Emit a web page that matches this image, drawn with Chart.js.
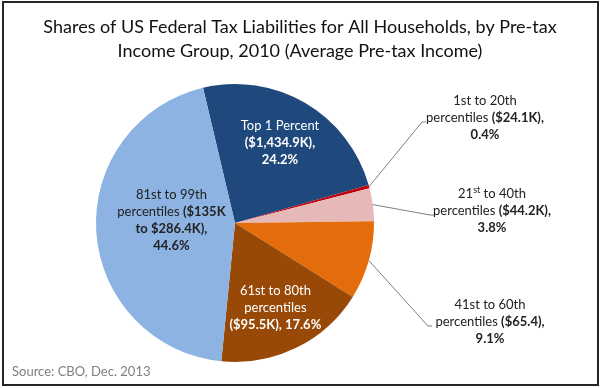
<!DOCTYPE html>
<html>
<head>
<meta charset="utf-8">
<script src="https://cdn.jsdelivr.net/npm/chart.js@4"></script>
<style>
  html, body { margin: 0; padding: 0; background: #fff; }
  #wrap { width: 600px; height: 388px; position: relative; }
</style>
</head>
<body>
<div id="wrap"><canvas id="pie" width="600" height="388"></canvas></div>
<script>
// data (percent of federal tax liabilities)
const groups = ['Top 1 Percent', '1st to 20th', '21st to 40th', '41st to 60th', '61st to 80th', '81st to 99th'];
const shares = [24.2, 0.4, 3.8, 9.1, 17.6, 44.6];
const avgIncome = ['$1,434.9K', '$24.1K', '$44.2K', '$65.4', '$95.5K', '$135K to $286.4K'];
const colors = ['#1f497d', '#c0000f', '#e6b9b8', '#e46c0a', '#984807', '#8db3e2'];

const FONT = 'Lato, "Open Sans", sans-serif';

// each label: list of lines, each line is list of [text, bold, sup]
const labelLines = [
    [[['Top 1 Percent', false]], [['(' + avgIncome[0] + '),', true]], [[shares[0].toFixed(1) + '%', true]]],
    [[['1st to 20th', false]], [['percentiles ', false], ['(' + avgIncome[1] + '),', true]], [[shares[1].toFixed(1) + '%', true]]],
    [[['21', false], ['st', false, 'sup'], [' to 40th', false]], [['percentiles ', false], ['(' + avgIncome[2] + '),', true]], [[shares[2].toFixed(1) + '%', true]]],
    [[['41st to 60th', false]], [['percentiles ', false], ['(' + avgIncome[3] + '),', true]], [[shares[3].toFixed(1) + '%', true]]],
    [[['61st to 80th', false]], [['percentiles', false]], [['(' + avgIncome[4] + '), ' + shares[4].toFixed(1) + '%', true]]],
    [[['81st to 99th', false]], [['percentiles ', false], ['($135K', true]], [['to $286.4K),', true]], [[shares[5].toFixed(1) + '%', true]]]
];
const textColors = ['#fff', '#222', '#222', '#222', '#fff', '#222'];

function drawLines(ctx, lines, cx, cy, color) {
    const lh = 17;
    const top = cy - (lines.length - 1) * lh / 2;
    lines.forEach((line, i) => {
        let w = 0;
        line.forEach(p => {
            ctx.font = (p[1] ? 'bold ' : '') + (p[2] ? '9px ' : '13px ') + FONT;
            w += ctx.measureText(p[0]).width;
        });
        let x = cx - w / 2;
        const y = top + i * lh;
        line.forEach(p => {
            ctx.font = (p[1] ? 'bold ' : '') + (p[2] ? '9px ' : '13px ') + FONT;
            ctx.fillStyle = color;
            ctx.textAlign = 'left';
            ctx.textBaseline = 'middle';
            ctx.fillText(p[0], x, p[2] ? y - 4 : y);
            x += ctx.measureText(p[0]).width;
        });
    });
}

const labelPlugin = {
    id: 'labels',
    afterDraw(chart) {
        const ctx = chart.ctx;
        ctx.save();
        // title
        ctx.fillStyle = '#111';
        ctx.font = '18px ' + FONT;
        ctx.textAlign = 'center';
        ctx.textBaseline = 'middle';
        ctx.fillText('Shares of US Federal Tax Liabilities for All Households, by Pre-tax', 300, 27);
        ctx.fillText('Income Group, 2010 (Average Pre-tax Income)', 300, 51);
        // source
        ctx.fillStyle = '#7f7f7f';
        ctx.font = '13px ' + FONT;
        ctx.textAlign = 'left';
        ctx.fillText('Source: CBO, Dec. 2013', 12, 372);

        const arcs = chart.getDatasetMeta(0).data;
        // inside labels: fraction of radius along mid angle, plus small nudge
        const inside = { 0: [0.64, -3, 0], 4: [0.66, 2, 0], 5: [0.48, -7, 3] };
        Object.keys(inside).forEach(k => {
            const a = arcs[k];
            const [f, dy, dx] = inside[k];
            const mid = (a.startAngle + a.endAngle) / 2;
            const r = a.outerRadius * f;
            drawLines(ctx, labelLines[k], a.x + Math.cos(mid) * r + dx, a.y + Math.sin(mid) * r + dy, textColors[k]);
        });
        // outside labels with leader lines
        const outside = [[1, 485, 118, 422], [2, 492, 211, 430], [3, 490, 322, 428]];
        outside.forEach(([k, lx, ly, ex]) => {
            const a = arcs[k];
            const mid = (a.startAngle + a.endAngle) / 2;
            const sx = a.x + Math.cos(mid) * a.outerRadius;
            const sy = a.y + Math.sin(mid) * a.outerRadius;
            ctx.strokeStyle = '#7f7f7f';
            ctx.lineWidth = 1;
            ctx.beginPath();
            ctx.moveTo(sx, sy);
            ctx.lineTo(ex, ly + 4);
            ctx.lineTo(ex + 4, ly + 4);
            ctx.stroke();
            drawLines(ctx, labelLines[k], lx, ly, textColors[k]);
        });
        // frame
        ctx.strokeStyle = '#262626';
        ctx.lineWidth = 2;
        ctx.strokeRect(3, 2, 595, 383);
        ctx.restore();
    }
};

new Chart(document.getElementById('pie'), {
    type: 'pie',
    data: {
        labels: groups,
        datasets: [{
            data: shares,
            backgroundColor: colors,
            borderWidth: 0
        }]
    },
    options: {
        responsive: false,
        animation: false,
        rotation: -13.3,
        layout: { padding: { top: 84, bottom: 26, left: 20, right: 150 } },
        plugins: {
            legend: { display: false },
            tooltip: { enabled: false }
        }
    },
    plugins: [labelPlugin]
});
</script>
</body>
</html>
